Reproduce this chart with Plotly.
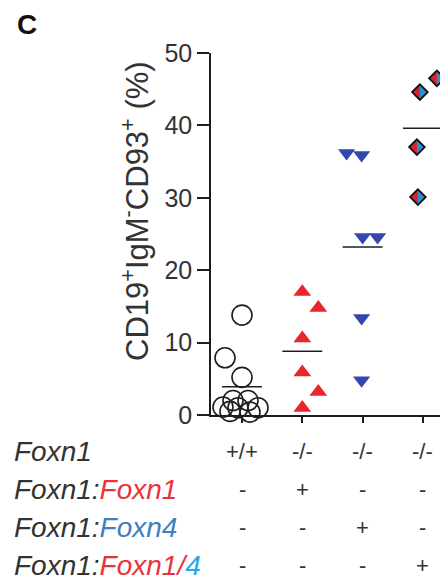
import plotly.graph_objects as go

# ---------------- data ----------------
group_labels = ["+/+", "-/-", "-/-", "-/-"]
wt_values = [13.8, 7.9, 5.2, 2.0, 2.0, 1.1, 1.0, 1.0, 0.5, 0.4]
foxn1_values = [17.0, 14.8, 10.6, 5.9, 3.2, 1.0]
foxn4_values = [36.2, 35.9, 24.6, 24.6, 13.4, 4.8]
foxn14_values = [46.5, 44.6, 37.0, 30.1]
group_means = [3.9, 8.8, 23.2, 39.6]
y_ticks = [0, 10, 20, 30, 40, 50]

row_marks = [
    ["+/+", "-/-", "-/-", "-/-"],
    ["-", "+", "-", "-"],
    ["-", "-", "+", "-"],
    ["-", "-", "-", "+"],
]

# ---------------- layout helpers ----------------
OFF = 8  # page body margin
W, H = 448 - OFF, 582 - OFF
def fx(px): return px - OFF
def fy(py): return py - OFF
ML, MR, MT = fx(211), 0, fy(53)
MB = H - fy(415)
PX_PER_UNIT = 60.3
x0_px = fx(242)
X_RANGE = [(ML - x0_px) / PX_PER_UNIT, (W - MR - x0_px) / PX_PER_UNIT]
plot_h = H - MT - MB
plot_w = W - ML - MR
def px_to_paper_x(px): return (fx(px) - ML) / plot_w
def py_to_paper_y(py): return (H - MB - fy(py)) / plot_h

wt_jitter_px = [0, -17, 0, -9, 6, -19, -4, 16, -12, 8]
foxn1_jitter_px = [0, 16, 0, 0, 16, 0]
foxn4_jitter_px = [-16, -1, 0, 15, -1, -1]
foxn14_jitter_px = [14, -3, -6, -5]

def xs(idx, jit):
    return [idx + j / PX_PER_UNIT for j in jit]

RED = "#e8262c"
BLUE_TRI = "#3347b0"
D_RED = "#d9232b"
D_BLUE = "#2b8fd4"
INK = "#1e1e1e"
FONT = "Liberation Sans, Arial, sans-serif"

fig = go.Figure()

# Foxn1 +/+ : open circles
fig.add_trace(go.Scatter(
    x=xs(0, wt_jitter_px), y=wt_values, mode="markers",
    marker=dict(symbol="circle-open", size=20, color=INK, line=dict(width=1.6)),
    cliponaxis=False, showlegend=False))

# Foxn1:Foxn1 : red up-triangles
fig.add_trace(go.Scatter(
    x=xs(1, foxn1_jitter_px), y=foxn1_values, mode="markers",
    marker=dict(symbol="triangle-up", size=15.5, color=RED, line=dict(width=0)),
    cliponaxis=False, showlegend=False))

# Foxn1:Foxn4 : blue down-triangles
fig.add_trace(go.Scatter(
    x=xs(2, foxn4_jitter_px), y=foxn4_values, mode="markers",
    marker=dict(symbol="triangle-down", size=15, color=BLUE_TRI, line=dict(width=0)),
    cliponaxis=False, showlegend=False))

# Foxn1:Foxn1/4 : diamonds, red left half / blue right half, dark outline
DSIZE = 12
dx = xs(3, foxn14_jitter_px)
fig.add_trace(go.Scatter(
    x=dx, y=foxn14_values, mode="markers",
    marker=dict(symbol="diamond", size=DSIZE, color=D_RED, line=dict(width=0)),
    cliponaxis=False, showlegend=False))
half_shift = 0.2165 * DSIZE / PX_PER_UNIT
fig.add_trace(go.Scatter(
    x=[v + half_shift for v in dx], y=foxn14_values, mode="markers",
    marker=dict(symbol="triangle-ne", size=DSIZE * 1.02, angle=45,
                color=D_BLUE, line=dict(width=0)),
    cliponaxis=False, showlegend=False))
fig.add_trace(go.Scatter(
    x=dx, y=foxn14_values, mode="markers",
    marker=dict(symbol="diamond-open", size=DSIZE, color="#111",
                line=dict(width=1.8)),
    cliponaxis=False, showlegend=False))

# group mean bars
fig.add_trace(go.Scatter(
    x=list(range(len(group_means))), y=group_means, mode="markers",
    marker=dict(symbol="line-ew", size=28.5, color=INK,
                line=dict(width=1.6, color=INK)),
    cliponaxis=False, showlegend=False))

annotations = []
row_y_px = [452, 489, 527, 565]
label_html = [
    "<i>Foxn1</i>",
    "<i>Foxn1:<span style='color:#e8333a'>Foxn1</span></i>",
    "<i>Foxn1:<span style='color:#3f7fc0'>Foxn4</span></i>",
    "<i>Foxn1:<span style='color:#e8333a'>Foxn1/</span><span style='color:#27a8e6'>4</span></i>",
]
for r, (lab, marks) in enumerate(zip(label_html, row_marks)):
    yp = py_to_paper_y(row_y_px[r])
    annotations.append(dict(
        text=lab, xref="paper", yref="paper", x=px_to_paper_x(12), y=yp,
        xanchor="left", yanchor="middle", showarrow=False,
        font=dict(family=FONT, size=28, color="#333")))
    for c, m in enumerate(marks):
        annotations.append(dict(
            text=m, xref="x", yref="paper", x=c, y=yp,
            xanchor="center", yanchor="middle", showarrow=False,
            font=dict(family=FONT, size=22, color="#333")))

annotations.append(dict(
    text="CD19<sup>+</sup>IgM<sup>-</sup>CD93<sup>+</sup> (%)",
    xref="paper", yref="paper", x=px_to_paper_x(135), y=py_to_paper_y(211),
    xanchor="center", yanchor="middle", textangle=-90, showarrow=False,
    font=dict(family=FONT, size=31, color="#333")))

annotations.append(dict(
    text="<b>C</b>", xref="paper", yref="paper",
    x=px_to_paper_x(27), y=py_to_paper_y(24),
    xanchor="center", yanchor="middle", showarrow=False,
    font=dict(family=FONT, size=28, color="#111")))

fig.update_layout(
    width=W, height=H,
    margin=dict(l=ML, r=MR, t=MT, b=MB),
    paper_bgcolor="white", plot_bgcolor="white",
    annotations=annotations,
    xaxis=dict(range=X_RANGE, showgrid=False, zeroline=False,
               showline=True, linecolor=INK, linewidth=1.6,
               ticks="outside", ticklen=6, tickwidth=1.6, tickcolor=INK,
               tickvals=list(range(len(group_labels))), showticklabels=False),
    yaxis=dict(range=[0, 50], showgrid=False, zeroline=False,
               showline=True, linecolor=INK, linewidth=1.6,
               ticks="outside", ticklen=12, tickwidth=1.6, tickcolor=INK,
               tickvals=y_ticks, ticktext=[str(t) for t in y_ticks],
               tickfont=dict(family=FONT, size=25, color="#333")),
)

fig.write_html("out.html")
